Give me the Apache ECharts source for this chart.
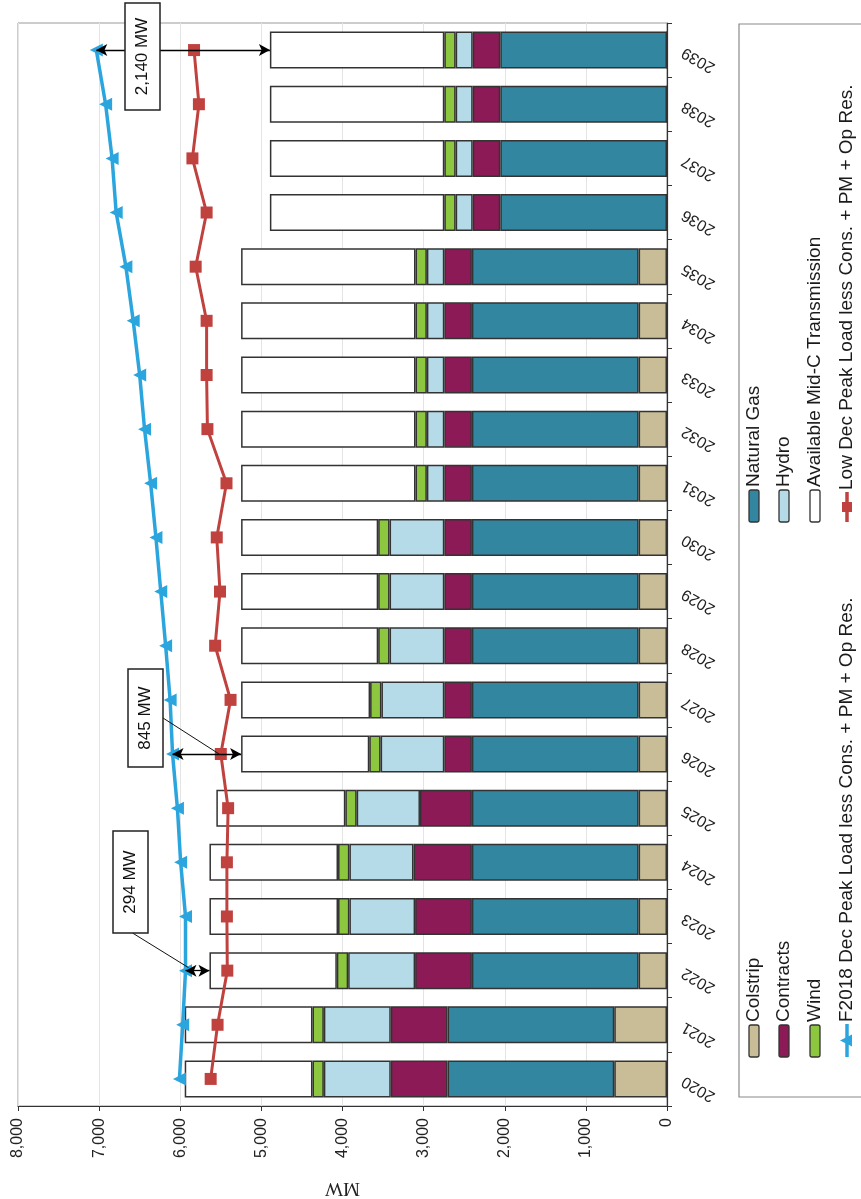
<!DOCTYPE html>
<html>
<head>
<meta charset="utf-8">
<script src="https://cdn.jsdelivr.net/npm/echarts@6/dist/echarts.min.js"></script>
<style>
html,body{margin:0;padding:0;background:#fff;}
#c{width:861px;height:1199px;}
</style>
</head>
<body>
<div id="c"></div>
<script>
// ---------- DATA ----------
const years = ['2020','2021','2022','2023','2024','2025','2026','2027','2028','2029',
               '2030','2031','2032','2033','2034','2035','2036','2037','2038','2039'];
const colstrip   = [650,650,350,350,350,350,350,350,350,350,350,350,350,350,350,350,0,0,0,0];
const naturalGas = [2055,2055,2055,2055,2055,2055,2055,2055,2055,2055,2055,2055,2055,2055,2055,2055,2055,2055,2055,2055];
const contracts  = [700,700,700,700,720,640,340,340,340,340,340,340,340,340,340,340,340,340,340,340];
const hydro      = [825,825,825,810,790,780,785,775,675,675,675,215,215,215,215,215,210,210,210,210];
const wind       = [140,140,140,140,140,140,140,140,140,140,140,140,140,140,140,140,140,140,140,140];
const midC       = [1575,1575,1570,1585,1585,1590,1580,1590,1690,1690,1690,2150,2150,2150,2150,2150,2150,2150,2150,2150];
const f2018Load  = [6010,5970,5935,5935,5995,6035,6095,6125,6180,6240,6300,6365,6440,6500,6580,6670,6790,6840,6920,7035];
const lowDecLoad = [5625,5540,5420,5425,5425,5410,5500,5380,5570,5510,5550,5430,5665,5675,5675,5810,5675,5850,5770,5830];
const xTicks     = [0,1000,2000,3000,4000,5000,6000,7000,8000];
const gapNotes   = [{year:'2022', text:'294 MW'}, {year:'2026', text:'845 MW'}, {year:'2039', text:'2,140 MW'}];

const COL = {
  colstrip:'#c8bd97', gas:'#3386a0', contracts:'#8c1a57', hydro:'#b6dbe8',
  wind:'#8dc63f', midC:'#ffffff', blue:'#2ba5de', red:'#c0423f'
};
const FONT = '"Liberation Sans", Arial, sans-serif';

function totalAt(i){ return colstrip[i]+naturalGas[i]+contracts[i]+hydro[i]+wind[i]+midC[i]; }

const chart = echarts.init(document.getElementById('c'), null, {renderer:'canvas'});

function barSeries(name, data, color){
  return {
    name, type:'bar', stack:'total', data, barWidth:37,
    itemStyle:{color, borderColor:'#333', borderWidth:1.5},
    emphasis:{disabled:true}, silent:true, z:2
  };
}

const arrowData = gapNotes.map(n => {
  const i = years.indexOf(n.year);
  return [{coord:[f2018Load[i], i]}, {coord:[totalAt(i), i]}];
});

// ---------- LEGEND (rotated graphic) ----------
function legendGroup(){
  const ch = [];
  ch.push({type:'rect', shape:{x:0,y:0,width:1073,height:150},
           style:{fill:'#fff', stroke:'#8a8a8a', lineWidth:1.2}});
  const boxes = [
    {name:'Colstrip', color:COL.colstrip, lx:40, ly:15},
    {name:'Contracts', color:COL.contracts, lx:40, ly:45},
    {name:'Wind', color:COL.wind, lx:40, ly:76},
    {name:'Natural Gas', color:COL.gas, lx:575, ly:15},
    {name:'Hydro', color:COL.hydro, lx:575, ly:45},
    {name:'Available Mid-C Transmission', color:COL.midC, lx:575, ly:76}
  ];
  boxes.forEach(b => {
    ch.push({type:'rect', shape:{x:b.lx, y:b.ly-5, width:32, height:10, r:2},
             style:{fill:b.color, stroke:'#333', lineWidth:1.3}});
    ch.push({type:'text', x:b.lx+35, y:b.ly,
             style:{text:b.name, font:'19px '+FONT, fill:'#1a1a1a',
                    textAlign:'left', textVerticalAlign:'middle', align:'left', verticalAlign:'middle'}});
  });
  ch.push({type:'line', shape:{x1:40,y1:108,x2:73,y2:108}, style:{stroke:COL.blue, lineWidth:3.5}});
  ch.push({type:'polygon', shape:{points:[[56.5,101],[50.5,113],[62.5,113]]}, style:{fill:COL.blue}});
  ch.push({type:'text', x:75, y:108,
           style:{text:'F2018 Dec Peak Load less Cons. + PM + Op Res.', font:'19px '+FONT, fill:'#1a1a1a',
                  textAlign:'left', textVerticalAlign:'middle', align:'left', verticalAlign:'middle'}});
  ch.push({type:'line', shape:{x1:575,y1:108,x2:605,y2:108}, style:{stroke:COL.red, lineWidth:3.5}});
  ch.push({type:'rect', shape:{x:585,y:103,width:10,height:10}, style:{fill:COL.red}});
  ch.push({type:'text', x:607, y:108,
           style:{text:'Low Dec Peak Load less Cons. + PM + Op Res.', font:'19px '+FONT, fill:'#1a1a1a',
                  textAlign:'left', textVerticalAlign:'middle', align:'left', verticalAlign:'middle'}});
  return {type:'group', x:739, y:1097, rotation:Math.PI/2, children:ch, z:50};
}

const option = {
  backgroundColor:'#fff',
  animation:false,
  grid:{left:18, right:194, top:23, bottom:93, containLabel:false, outerBoundsMode:'none',
        show:true, borderColor:'#9a9a9a', borderWidth:1},
  xAxis:{
    type:'value', inverse:true, position:'bottom',
    min:xTicks[0], max:xTicks[xTicks.length-1], interval:xTicks[1]-xTicks[0],
    name:'MW', nameLocation:'middle', nameGap:72, nameRotate:180,
    nameTextStyle:{fontFamily:'"Liberation Serif", "DejaVu Serif", serif', fontSize:19, color:'#222'},
    axisLine:{show:true, lineStyle:{color:'#333', width:1.2}},
    axisTick:{show:true, length:5, lineStyle:{color:'#333'}},
    axisLabel:{rotate:90, margin:12, fontSize:16, fontFamily:FONT, color:'#222',
               formatter:v => Number(v).toLocaleString('en-US')},
    splitLine:{show:true, lineStyle:{color:'#e4e4e4', width:1}}
  },
  yAxis:{
    type:'category', position:'right', data:years,
    axisLine:{show:true, lineStyle:{color:'#333', width:1.2}},
    axisTick:{show:true, length:5, lineStyle:{color:'#333'}},
    axisLabel:{show:false},
    splitLine:{show:false}
  },
  series:[
    barSeries('Colstrip', colstrip, COL.colstrip),
    barSeries('Natural Gas', naturalGas, COL.gas),
    barSeries('Contracts', contracts, COL.contracts),
    barSeries('Hydro', hydro, COL.hydro),
    barSeries('Wind', wind, COL.wind),
    barSeries('Available Mid-C Transmission', midC, COL.midC),
    {
      name:'F2018 Dec Peak Load less Cons. + PM + Op Res.', type:'line', data:f2018Load,
      symbol:'triangle', symbolSize:13, symbolRotate:90,
      lineStyle:{color:COL.blue, width:3.5}, itemStyle:{color:COL.blue},
      emphasis:{disabled:true}, silent:true, z:5,
      markLine:{
        silent:true, symbol:['arrow','arrow'], symbolSize:[9,11], precision:0,
        label:{show:false}, lineStyle:{color:'#000', width:1.3, type:'solid'},
        emphasis:{disabled:true}, data:arrowData, z:8
      }
    },
    {
      name:'Low Dec Peak Load less Cons. + PM + Op Res.', type:'line', data:lowDecLoad,
      symbol:'rect', symbolSize:12,
      lineStyle:{color:COL.red, width:3}, itemStyle:{color:COL.red},
      emphasis:{disabled:true}, silent:true, z:5
    }
  ],
  graphic:[legendGroup()]
};

chart.setOption(option);

// ---------- category labels (upside-down, slanted) & annotation boxes ----------
function px(v, i){ return chart.convertToPixel({xAxisIndex:0, yAxisIndex:0}, [v, i]); }
const ann = [legendGroup()];

years.forEach((y, i) => {
  const p = px(0, i);
  ann.push({type:'text', z:40, x:p[0]+16, y:p[1]+1, rotation:150*Math.PI/180,
            style:{text:y, font:'16px '+FONT, fill:'#222',
                   textAlign:'right', textVerticalAlign:'middle', align:'right', verticalAlign:'middle'}});
});

const boxes = {
  '2039':{x:125, y:3,   w:35, h:107},
  '2026':{x:128, y:669, w:35, h:98},
  '2022':{x:113, y:831, w:35, h:102}
};
gapNotes.forEach(n => {
  const i = years.indexOf(n.year);
  const a = px(f2018Load[i], i), b = px(totalAt(i), i);
  const bx = boxes[n.year];
  if (n.year === '2026') {
    const ex = a[0] + 0.68*(b[0]-a[0]);
    ann.push({type:'line', z:60, shape:{x1:bx.x+bx.w, y1:bx.y+bx.h/2, x2:ex, y2:a[1]},
              style:{stroke:'#111', lineWidth:1}});
  }
  if (n.year === '2022') {
    ann.push({type:'line', z:60, shape:{x1:bx.x+bx.w/2+2, y1:bx.y+bx.h, x2:a[0]+3, y2:a[1]-3},
              style:{stroke:'#111', lineWidth:1}});
  }
  ann.push({type:'rect', z:61, shape:{x:bx.x, y:bx.y, width:bx.w, height:bx.h},
            style:{fill:'#fff', stroke:'#222', lineWidth:1.5}});
  ann.push({type:'text', z:62, x:bx.x+bx.w/2, y:bx.y+bx.h/2, rotation:Math.PI/2,
            style:{text:n.text, font:'17px '+FONT, fill:'#111',
                   textAlign:'center', textVerticalAlign:'middle', align:'center', verticalAlign:'middle'}});
});
chart.setOption({graphic:ann});
</script>
</body>
</html>
